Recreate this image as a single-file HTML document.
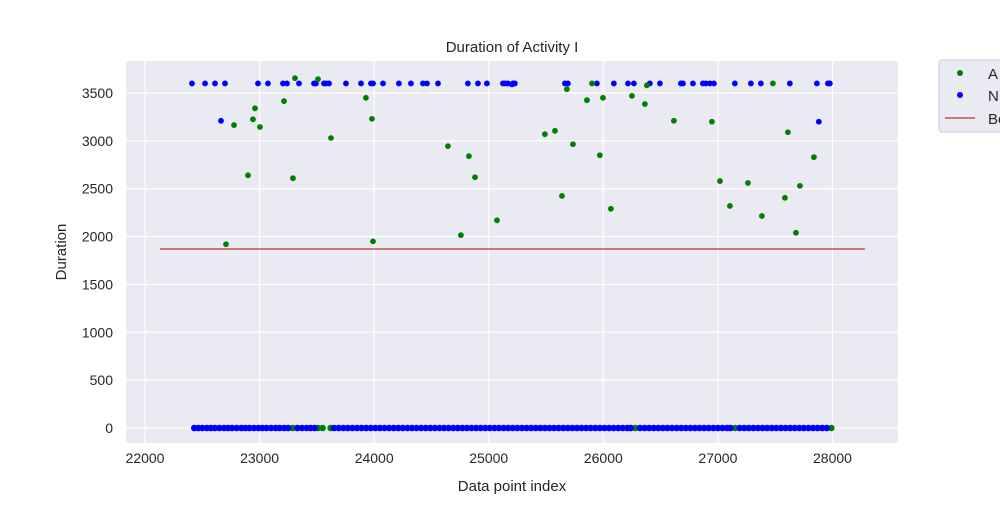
<!DOCTYPE html>
<html><head><meta charset="utf-8"><style>
body{margin:0;background:#fff;}
svg text{font-family:"Liberation Sans","DejaVu Sans",sans-serif;fill:#262626;}
</style></head><body>
<svg id="chart" width="1000" height="500" xmlns="http://www.w3.org/2000/svg">
<rect x="126" y="61" width="772" height="382" fill="#eaeaf2"/>
<g id="grid"></g><g id="ticks"></g><g id="marks"></g>
<text x="512" y="52" font-size="15" text-anchor="middle">Duration of Activity I</text>
<text x="512" y="491" font-size="15" text-anchor="middle">Data point index</text>
<text x="66" y="252" font-size="15" text-anchor="middle" transform="rotate(-90 66 252)">Duration</text>
<g>
<rect x="939" y="60" width="70" height="72" rx="3" fill="#eaeaf2" stroke="#d0d0d8"/>
<g><circle cx="960" cy="73" r="3" fill="green"/><text x="988" y="79" font-size="15">A</text></g>
<g><circle cx="960" cy="95" r="3" fill="blue"/><text x="988" y="101" font-size="15">N</text></g>
<g><line x1="945" y1="118" x2="975" y2="118" stroke="#c44e52" stroke-width="1.5"/><text x="988" y="124" font-size="15">Bo</text></g>
</g>
</svg>
<script>
const xTicks=[22000,23000,24000,25000,26000,27000,28000];
const yTicks=[0,500,1000,1500,2000,2500,3000,3500];
const blueX=[22410,22524,22611,22698,22986,23073,23204,23239,23344,23475,23492,23562,23579,23606,23754,23885,23972,23990,24077,24216,24321,24426,24461,24557,24818,24906,24984,25124,25141,25167,25211,25228,25665,25691,25944,26092,26215,26267,26406,26494,26677,26695,26782,26869,26895,26930,26965,27148,27288,27375,27628,27864,27960,27977,22663,25202,27881];
const blueY=[3600,3600,3600,3600,3600,3600,3600,3600,3600,3600,3600,3600,3600,3600,3600,3600,3600,3600,3600,3600,3600,3600,3600,3600,3600,3600,3600,3600,3600,3600,3600,3600,3600,3600,3600,3600,3600,3600,3600,3600,3600,3600,3600,3600,3600,3600,3600,3600,3600,3600,3600,3600,3600,3600,3210,3590,3200];
const greenX=[22707,22777,22899,22942,22960,23003,23213,23291,23309,23510,23623,23928,23981,23990,24644,24757,24827,24880,25072,25490,25578,25639,25682,25735,25857,25901,25970,25997,26066,26250,26363,26380,26616,26948,27018,27105,27262,27384,27480,27585,27611,27681,27716,27838];
const greenY=[1920,3165,2640,3225,3340,3145,3415,2610,3655,3645,3030,3450,3230,1950,2945,2015,2840,2620,2170,3070,3105,2425,3540,2965,3425,3600,2850,3450,2290,3470,3385,3580,3210,3200,2580,2320,2560,2215,3600,2405,3090,2040,2530,2830];
const blueZeroX=[22430,22465,22500,22540,22575,22610,22650,22690,22725,22760,22800,22840,22875,22910,22950,22990,23025,23060,23100,23140,23175,23215,23250,23330,23370,23410,23445,23480,23650,23690,23730,23770,23810,23850,23890,23930,23970,24010,24050,24090,24130,24170,24210,24250,24290,24330,24370,24410,24450,24490,24530,24570,24610,24650,24690,24730,24770,24810,24850,24890,24930,24970,25010,25050,25090,25130,25170,25210,25250,25290,25330,25370,25410,25450,25490,25530,25570,25610,25650,25690,25730,25770,25810,25850,25890,25930,25970,26010,26050,26090,26130,26170,26210,26240,26320,26360,26400,26440,26480,26520,26560,26600,26640,26680,26720,26760,26800,26840,26880,26920,26960,27000,27040,27080,27110,27190,27230,27270,27310,27350,27390,27430,27470,27510,27550,27590,27630,27670,27710,27750,27790,27830,27870,27910,27950];
const greenZeroX=[23290,23510,23550,23620,26280,27150,27990];
const boundX=[22130,28283];
const boundY=[1870,1870];
const X=v=>145+(v-22000)*0.11458, Y=v=>428-v*0.09571;
const NS='http://www.w3.org/2000/svg';
function mk(tag,attrs,parent){const e=document.createElementNS(NS,tag);for(const k in attrs)e.setAttribute(k,attrs[k]);document.getElementById(parent).appendChild(e);return e;}
xTicks.forEach(t=>{
 const g=mk('line',{x1:X(t),x2:X(t),y1:61,y2:443,stroke:'#fff','stroke-width':1.2},'grid');
 
 
 const l=mk('text',{x:X(t),y:463,'font-size':14,'text-anchor':'middle'},'ticks');l.textContent=t;
 
 
});
yTicks.forEach(t=>{
 const g=mk('line',{x1:126,x2:898,y1:Y(t),y2:Y(t),stroke:'#fff','stroke-width':1.2},'grid');
 
 
 const l=mk('text',{x:113,y:Y(t)+5,'font-size':14,'text-anchor':'end'},'ticks');l.textContent=t;
 
 
});
const bl=mk('line',{x1:X(boundX[0]),x2:X(boundX[1]),y1:Y(boundY[0]),y2:Y(boundY[1]),stroke:'#c44e52','stroke-width':1.5},'marks');


function dot(x,y,c,name,r){const d=mk('circle',{cx:X(x),cy:Y(y),r:r,fill:c},'marks');
 
 }
greenZeroX.forEach(x=>dot(x,0,'green','point-a-zero',3.3));
blueZeroX.forEach(x=>dot(x,0,'blue','point-n-zero',3.3));
blueX.forEach((x,i)=>dot(x,blueY[i],'blue','point-n',2.9));
greenX.forEach((x,i)=>dot(x,greenY[i],'green','point-a',2.9));
</script>
</body></html>
